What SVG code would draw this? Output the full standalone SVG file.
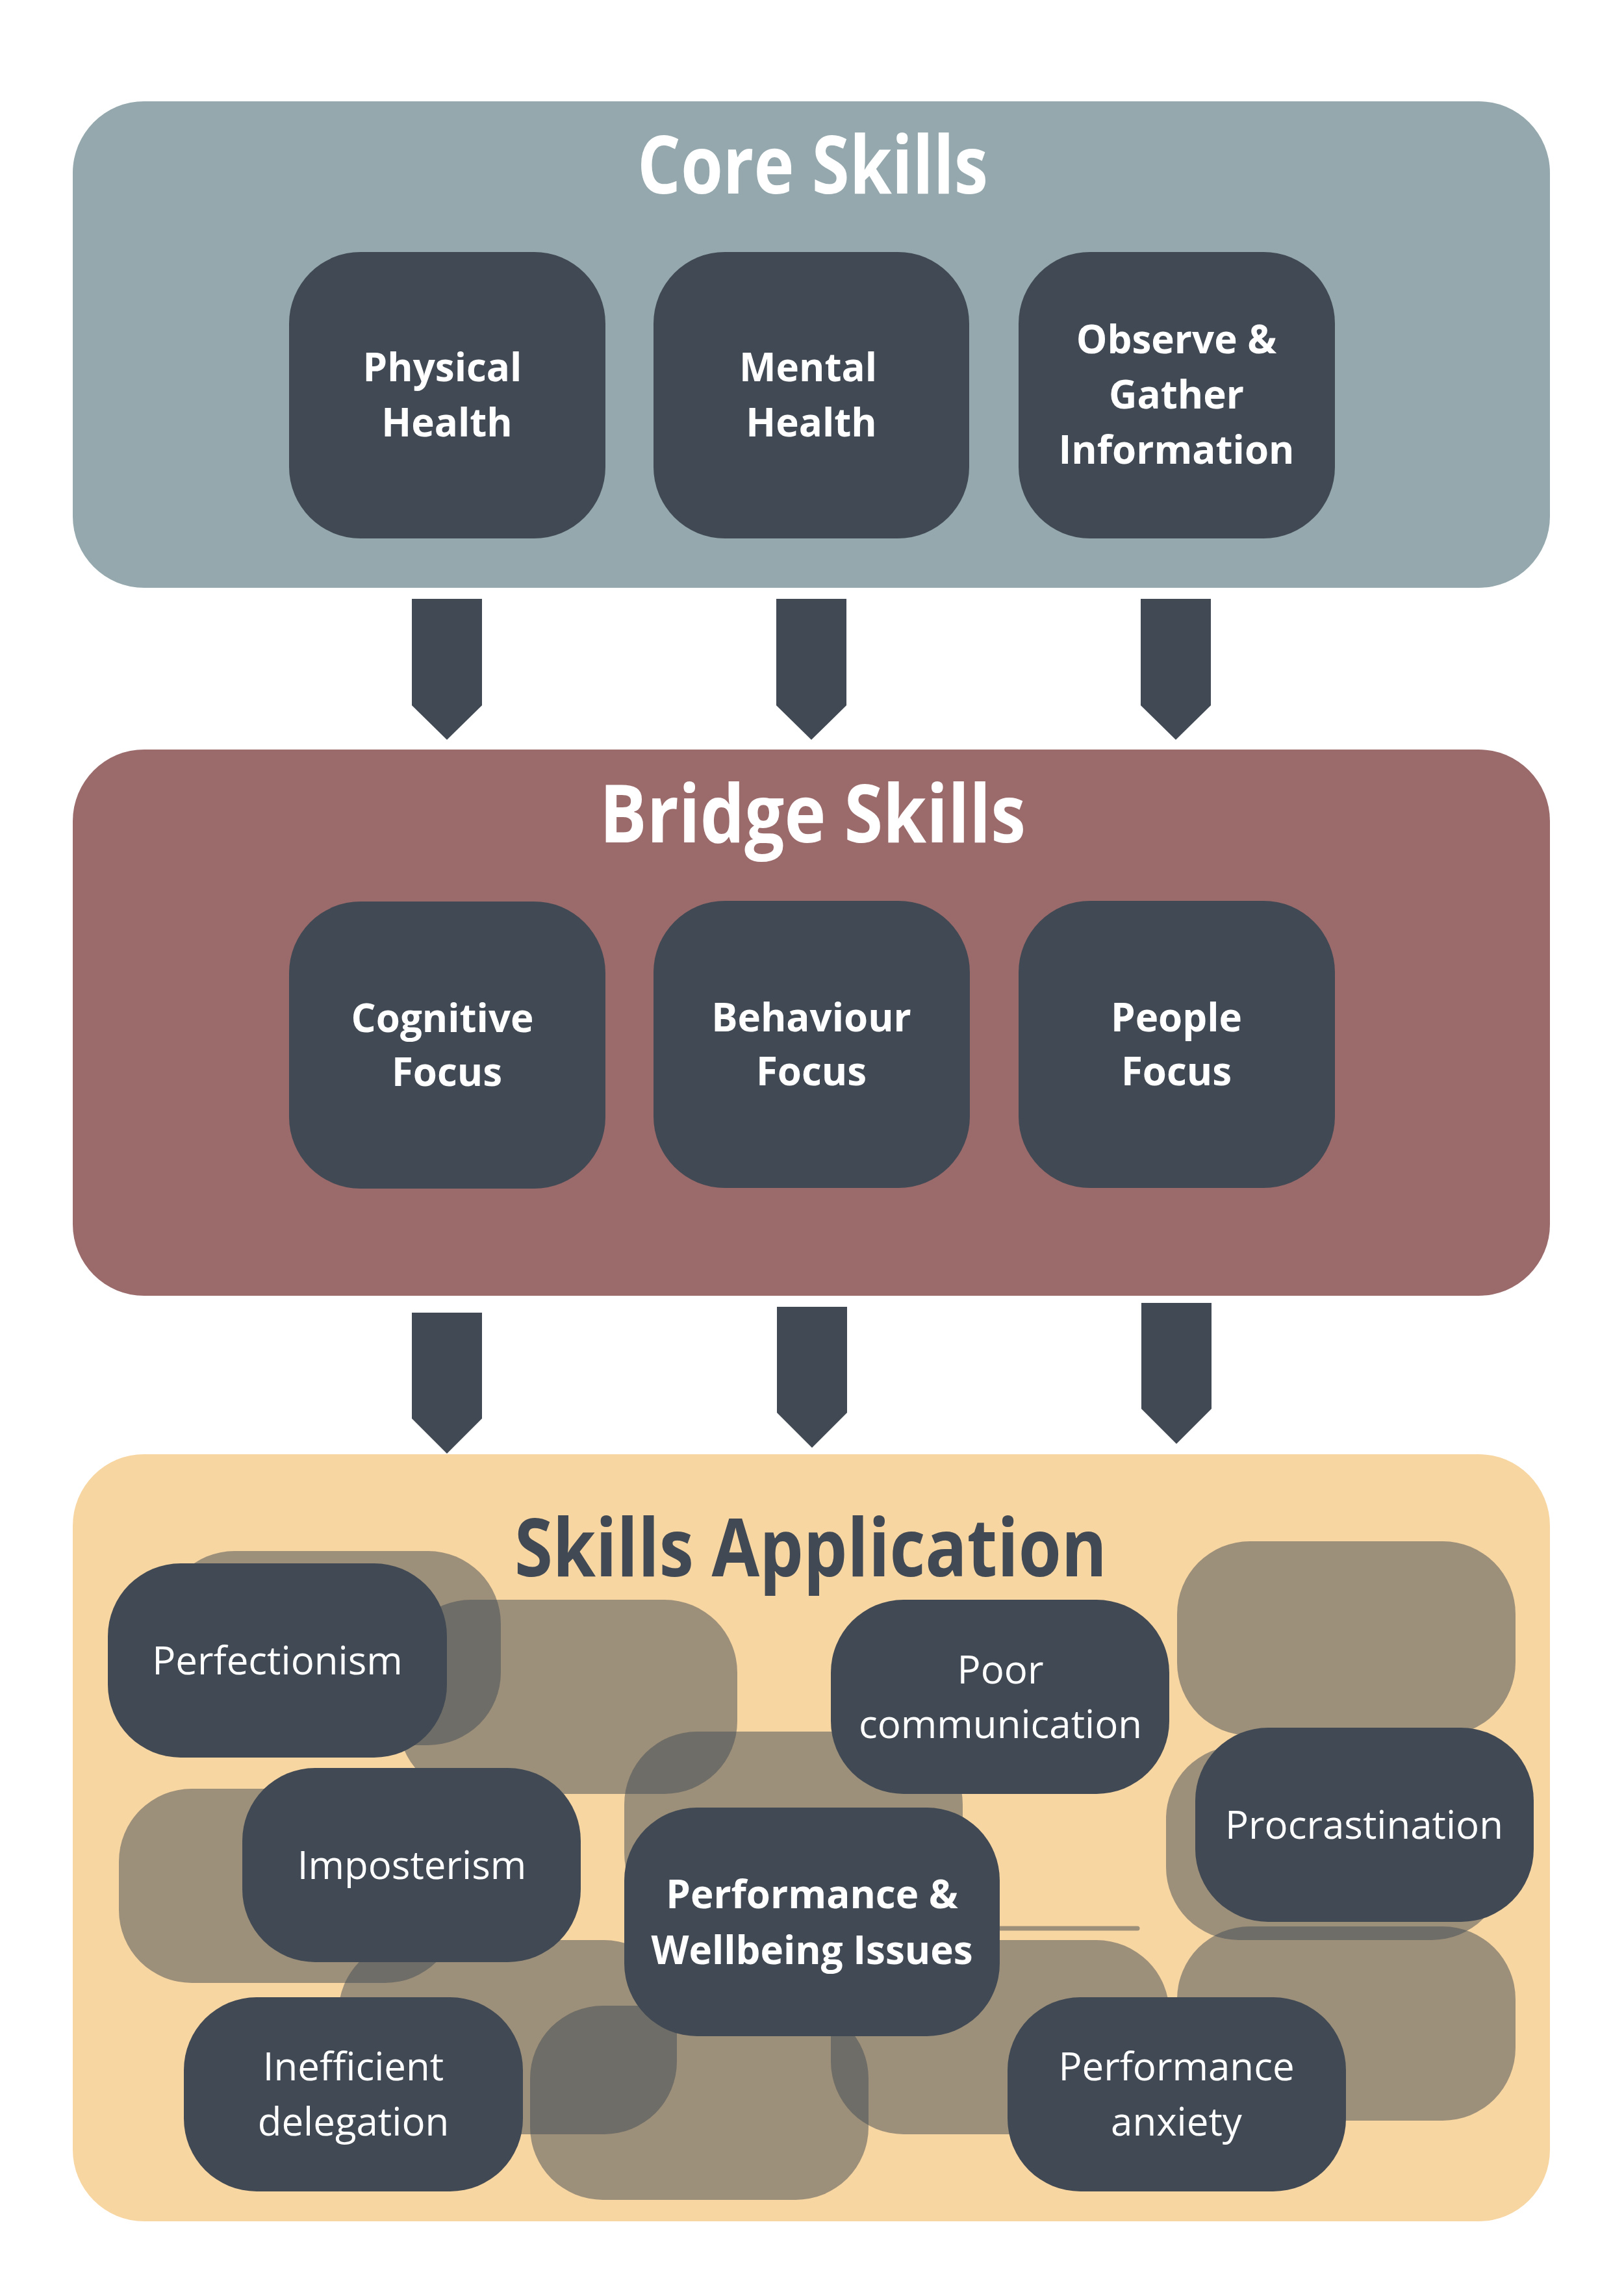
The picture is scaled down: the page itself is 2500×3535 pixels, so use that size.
<svg xmlns="http://www.w3.org/2000/svg" width="2500" height="3535" viewBox="0 0 2500 3535">
  <style>
    .panel-core { fill: #94a8ad; }
    .panel-bridge { fill: #9b6a6b; }
    .panel-app { fill: #f8d6a1; }
    .node { fill: #414a54; }
    .ghost { fill: #414a54; fill-opacity: 0.5; }
    .ghost-line { stroke: #414a54; stroke-opacity: 0.5; stroke-width: 7; stroke-linecap: round; fill: none; }
    .arrow { fill: #414a54; }
    .title { font-family: "Open Sans", "Liberation Sans", sans-serif; font-weight: 700; font-size: 124px; text-anchor: middle; }
    .t-light { fill: #ffffff; }
    .t-dark { fill: #414a54; }
    .lbl-b { font-family: "Open Sans", "Liberation Sans", sans-serif; font-weight: 700; font-size: 60px; fill: #ffffff; text-anchor: middle; }
    .lbl { font-family: "Open Sans", "Liberation Sans", sans-serif; font-weight: 400; font-size: 60px; fill: #ffffff; text-anchor: middle; }
  </style>
  <rect width="2500" height="3535" fill="#ffffff"/>

  <!-- Panels -->
  <g id="panel-core">
    <rect class="panel-core" x="112" y="156" width="2274" height="749" rx="110" ry="110"/>
    <text class="title t-light" x="1251" y="298" textLength="540" lengthAdjust="spacingAndGlyphs">Core Skills</text>
  </g>
  <g id="panel-bridge">
    <rect class="panel-bridge" x="112" y="1154" width="2274" height="841" rx="110" ry="110"/>
    <text class="title t-light" x="1251" y="1297" textLength="656" lengthAdjust="spacingAndGlyphs">Bridge Skills</text>
  </g>
  <g id="panel-application">
    <rect class="panel-app" x="112" y="2239" width="2274" height="1181" rx="110" ry="110"/>
    <text class="title t-dark" x="1248" y="2427" textLength="912" lengthAdjust="spacingAndGlyphs">Skills Application</text>
  </g>

  <!-- Core skill nodes -->
  <g id="node-physical-health">
    <rect class="node" x="445" y="388" width="487" height="441" rx="110" ry="110"/>
    <text class="lbl-b" x="681" y="587">Physical</text>
    <text class="lbl-b" x="688" y="672">Health</text>
  </g>
  <g id="node-mental-health">
    <rect class="node" x="1006" y="388" width="486" height="441" rx="110" ry="110"/>
    <text class="lbl-b" x="1244" y="587">Mental</text>
    <text class="lbl-b" x="1249" y="672">Health</text>
  </g>
  <g id="node-observe-gather">
    <rect class="node" x="1568" y="388" width="487" height="441" rx="110" ry="110"/>
    <text class="lbl-b" x="1811" y="544">Observe &amp;</text>
    <text class="lbl-b" x="1811" y="629">Gather</text>
    <text class="lbl-b" x="1811" y="714">Information</text>
  </g>

  <!-- Bridge skill nodes -->
  <g id="node-cognitive-focus">
    <rect class="node" x="445" y="1388" width="487" height="442" rx="110" ry="110"/>
    <text class="lbl-b" x="681" y="1589">Cognitive</text>
    <text class="lbl-b" x="688" y="1672">Focus</text>
  </g>
  <g id="node-behaviour-focus">
    <rect class="node" x="1006" y="1387" width="487" height="442" rx="110" ry="110"/>
    <text class="lbl-b" x="1249" y="1588">Behaviour</text>
    <text class="lbl-b" x="1249" y="1671">Focus</text>
  </g>
  <g id="node-people-focus">
    <rect class="node" x="1568" y="1387" width="487" height="442" rx="110" ry="110"/>
    <text class="lbl-b" x="1811" y="1588">People</text>
    <text class="lbl-b" x="1811" y="1671">Focus</text>
  </g>

  <!-- Connectors -->
  <g id="connectors">
    <polygon class="arrow" points="634,922 742,922 742,1086 688,1139 634,1086"/>
    <polygon class="arrow" points="1195,922 1303,922 1303,1086 1249,1139 1195,1086"/>
    <polygon class="arrow" points="1756,922 1864,922 1864,1086 1810,1139 1756,1086"/>
    <polygon class="arrow" points="634,2021 742,2021 742,2184 688,2238 634,2184"/>
    <polygon class="arrow" points="1196,2012 1304,2012 1304,2175 1250,2229 1196,2175"/>
    <polygon class="arrow" points="1757,2006 1865,2006 1865,2169 1811,2223 1757,2169"/>
  </g>

  <!-- Decorative translucent shapes -->
  <g id="decor">
    <rect class="ghost" x="249" y="2388" width="522" height="299" rx="112" ry="112"/>
    <rect class="ghost" x="613" y="2463" width="522" height="299" rx="112" ry="112"/>
    <rect class="ghost" x="961" y="2666" width="521" height="299" rx="112" ry="112"/>
    <rect class="ghost" x="1812" y="2373" width="521" height="299" rx="112" ry="112"/>
    <rect class="ghost" x="1795" y="2688" width="521" height="299" rx="112" ry="112"/>
    <rect class="ghost" x="183" y="2754" width="522" height="299" rx="112" ry="112"/>
    <rect class="ghost" x="521" y="2987" width="521" height="299" rx="112" ry="112"/>
    <rect class="ghost" x="816" y="3088" width="521" height="299" rx="112" ry="112"/>
    <rect class="ghost" x="1279" y="2987" width="521" height="299" rx="112" ry="112"/>
    <rect class="ghost" x="1812" y="2966" width="521" height="299" rx="112" ry="112"/>
    <line class="ghost-line" x1="1450" y1="2969" x2="1751" y2="2969"/>
  </g>

  <!-- Application nodes -->
  <g id="node-perfectionism">
    <rect class="node" x="166" y="2407" width="522" height="299" rx="112" ry="112"/>
    <text class="lbl" x="427" y="2578">Perfectionism</text>
  </g>
  <g id="node-poor-communication">
    <rect class="node" x="1279" y="2463" width="521" height="299" rx="112" ry="112"/>
    <text class="lbl" x="1540" y="2592">Poor</text>
    <text class="lbl" x="1540" y="2676">communication</text>
  </g>
  <g id="node-imposterism">
    <rect class="node" x="373" y="2722" width="521" height="299" rx="112" ry="112"/>
    <text class="lbl" x="634" y="2893">Imposterism</text>
  </g>
  <g id="node-procrastination">
    <rect class="node" x="1840" y="2660" width="521" height="299" rx="112" ry="112"/>
    <text class="lbl" x="2100" y="2831">Procrastination</text>
  </g>
  <g id="node-inefficient-delegation">
    <rect class="node" x="283" y="3075" width="522" height="299" rx="112" ry="112"/>
    <text class="lbl" x="544" y="3203">Inefficient</text>
    <text class="lbl" x="544" y="3288">delegation</text>
  </g>
  <g id="node-performance-anxiety">
    <rect class="node" x="1551" y="3075" width="521" height="299" rx="112" ry="112"/>
    <text class="lbl" x="1811" y="3203">Performance</text>
    <text class="lbl" x="1811" y="3288">anxiety</text>
  </g>
  <g id="node-performance-wellbeing">
    <rect class="node" x="961" y="2783" width="578" height="352" rx="112" ry="112"/>
    <text class="lbl-b" x="1250" y="2938">Performance &amp;</text>
    <text class="lbl-b" x="1250" y="3024">Wellbeing Issues</text>
  </g>
</svg>
